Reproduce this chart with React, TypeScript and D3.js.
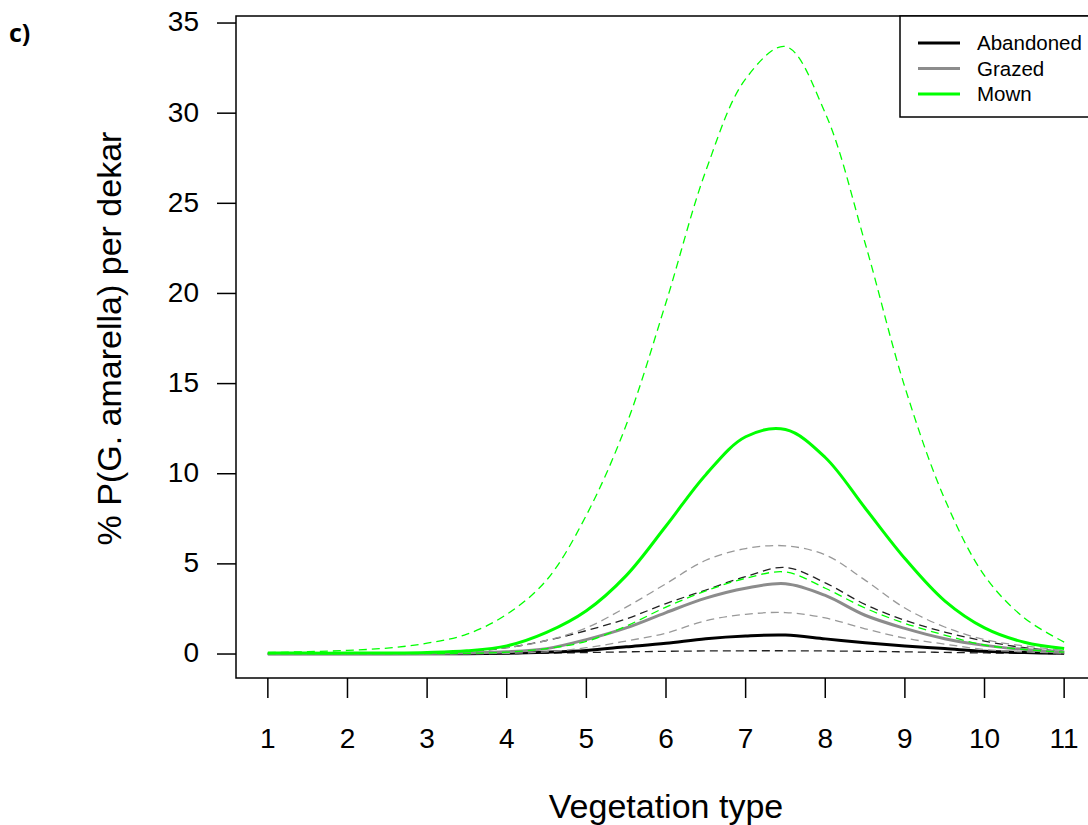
import React from "react";
import * as d3 from "d3";

const xs = [1, 1.5, 2, 2.5, 3, 3.5, 4, 4.5, 5, 5.5, 6, 6.5, 7, 7.5, 8, 8.5, 9, 9.5, 10, 10.5, 11];

const abandonedMean = [0.01, 0.01, 0.01, 0.01, 0.01, 0.02, 0.04, 0.1, 0.2, 0.4, 0.6, 0.85, 1.0, 1.05, 0.84, 0.62, 0.44, 0.3, 0.15, 0.08, 0.04];
const abandonedUpper = [0.01, 0.01, 0.02, 0.03, 0.05, 0.13, 0.35, 0.75, 1.3, 1.95, 2.8, 3.55, 4.3, 4.8, 3.95, 2.75, 1.87, 1.22, 0.72, 0.35, 0.15];
const abandonedLower = [0.0, 0.0, 0.0, 0.0, 0.01, 0.01, 0.02, 0.05, 0.08, 0.12, 0.15, 0.17, 0.18, 0.18, 0.17, 0.15, 0.12, 0.09, 0.06, 0.04, 0.02];

const grazedMean = [0.02, 0.02, 0.02, 0.02, 0.03, 0.06, 0.12, 0.3, 0.8, 1.45, 2.3, 3.1, 3.65, 3.9, 3.25, 2.15, 1.42, 0.85, 0.48, 0.25, 0.1];
const grazedUpper = [0.02, 0.03, 0.04, 0.05, 0.08, 0.15, 0.35, 0.75, 1.45, 2.6, 3.9, 5.2, 5.85, 6.0, 5.5, 4.1, 2.55, 1.5, 0.8, 0.45, 0.2];
const grazedLower = [0.0, 0.0, 0.0, 0.0, 0.01, 0.02, 0.04, 0.12, 0.35, 0.72, 1.16, 1.85, 2.2, 2.3, 2.0, 1.4, 0.88, 0.55, 0.25, 0.12, 0.05];

const mownMean = [0.05, 0.05, 0.05, 0.06, 0.09, 0.18, 0.45, 1.2, 2.4, 4.35, 7.1, 9.95, 12.05, 12.45, 10.9, 8.1, 5.3, 2.95, 1.45, 0.65, 0.3];
const mownUpper = [0.08, 0.13, 0.2, 0.33, 0.6, 1.1, 2.2, 4.1, 7.7, 12.7, 19.5, 26.8, 31.9, 33.7, 30.0, 22.8, 14.8, 8.6, 4.35, 2.0, 0.66];
const mownLower = [0.02, 0.02, 0.02, 0.02, 0.02, 0.04, 0.1, 0.3, 0.7, 1.55, 2.6, 3.5, 4.2, 4.55, 3.65, 2.55, 1.7, 1.05, 0.5, 0.25, 0.1];

const xTicks = [1, 2, 3, 4, 5, 6, 7, 8, 9, 10, 11];
const yTicks = [0, 5, 10, 15, 20, 25, 30, 35];

const legendLabels = ["Abandoned", "Grazed", "Mown"];
const legendColors = ["#000000", "#8c8c8c", "#00ff00"];

const W = 1088;
const H = 825;
const FONT = "'Liberation Sans', Arial, sans-serif";

export default function App() {
  const x = d3.scaleLinear().domain([0.6, 11.4]).range([236, 1096]);
  const y = d3.scaleLinear().domain([-1.33, 35.39]).range([678, 16]);

  const line = d3
    .line<number>()
    .x((_, i) => x(xs[i]))
    .y((d) => y(Math.max(0, d)))
    .curve(d3.curveCatmullRom.alpha(0.5));

  const series = [
    { v: abandonedLower, c: "#222222", w: 1.3, dash: "8,5" },
    { v: abandonedUpper, c: "#222222", w: 1.3, dash: "8,5" },
    { v: abandonedMean, c: "#000000", w: 3, dash: null },
    { v: grazedLower, c: "#999999", w: 1.3, dash: "8,5" },
    { v: grazedUpper, c: "#999999", w: 1.3, dash: "8,5" },
    { v: grazedMean, c: "#8c8c8c", w: 3, dash: null },
    { v: mownLower, c: "#00ff00", w: 1.3, dash: "8,5" },
    { v: mownUpper, c: "#00ff00", w: 1.3, dash: "8,5" },
    { v: mownMean, c: "#00ff00", w: 3, dash: null },
  ];

  const [x0, x1] = x.range();
  const [yb, yt] = y.range();

  return (
    <svg
      width={W}
      height={H}
      style={{ position: "absolute", left: 0, top: 0, background: "#fff" }}
      fontFamily={FONT}
    >
      <rect x={0} y={0} width={W} height={H} fill="#fff" />
      <text x={9} y={42} fontSize={25} fontWeight="bold" fill="#000" fontFamily="'Open Sans', 'Liberation Sans', sans-serif">
        c)
      </text>

      {/* curves */}
      {series.map((s, i) => (
        <path
          key={i}
          d={line(s.v) || ""}
          fill="none"
          stroke={s.c}
          strokeWidth={s.w}
          strokeDasharray={s.dash || undefined}
          strokeLinejoin="round"
        />
      ))}

      {/* plot box */}
      <rect x={x0} y={yt} width={x1 - x0} height={yb - yt} fill="none" stroke="#000" strokeWidth={1.5} />

      {/* y axis */}
      {yTicks.map((t) => (
        <g key={"y" + t}>
          <line x1={x0 - 19} x2={x0} y1={y(t)} y2={y(t)} stroke="#000" strokeWidth={1.5} />
          <text x={x0 - 37} y={y(t)} dy="0.3em" textAnchor="end" fontSize={28} fill="#000">
            {t}
          </text>
        </g>
      ))}

      {/* x axis */}
      {xTicks.map((t) => (
        <g key={"x" + t}>
          <line x1={x(t)} x2={x(t)} y1={yb} y2={yb + 20} stroke="#000" strokeWidth={1.5} />
          <text x={x(t)} y={748} textAnchor="middle" fontSize={28} fill="#000">
            {t}
          </text>
        </g>
      ))}

      <text x={(x(1) + x(11)) / 2} y={818} textAnchor="middle" fontSize={34} fill="#000">
        Vegetation type
      </text>
      <text
        transform={`translate(121, ${(y(0) + y(35)) / 2}) rotate(-90)`}
        textAnchor="middle"
        fontSize={34}
        fill="#000"
      >
        % P(G. amarella) per dekar
      </text>

      {/* legend */}
      <rect x={900} y={yt} width={x1 - 900} height={117 - yt} fill="#fff" stroke="#000" strokeWidth={1.5} />
      {legendLabels.map((lab, i) => {
        const ly = 43 + i * 25.5;
        return (
          <g key={lab}>
            <line x1={918} x2={960} y1={ly} y2={ly} stroke={legendColors[i]} strokeWidth={3} />
            <text x={977} y={ly} dy="0.36em" fontSize={20.5} fill="#000">
              {lab}
            </text>
          </g>
        );
      })}
    </svg>
  );
}
